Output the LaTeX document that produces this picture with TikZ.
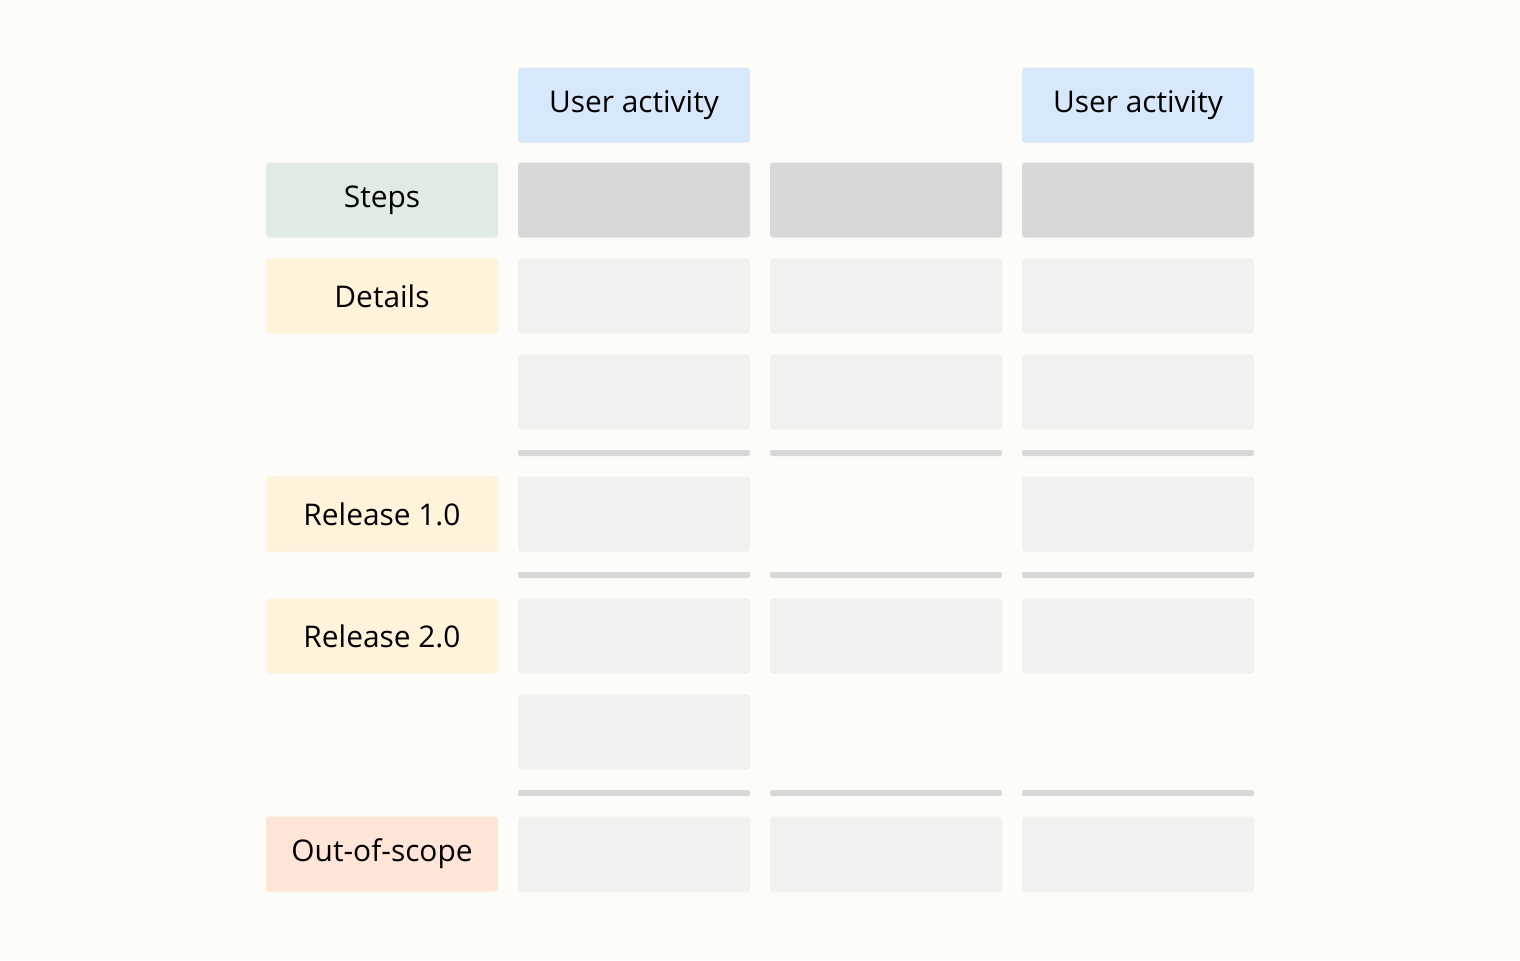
\documentclass[tikz,border=0pt]{standalone}
\usepackage{fontspec}
\setmainfont{Open Sans}
\definecolor{bgcol}{HTML}{FDFCF8}
\definecolor{actcol}{HTML}{D8E8FC}
\definecolor{stepcol}{HTML}{E0EBE3}
\definecolor{relcol}{HTML}{FFF3DC}
\definecolor{oocol}{HTML}{FFE4D8}
\definecolor{darkcell}{HTML}{D9D7D8}
\definecolor{lightcell}{HTML}{F2F1F0}
\tikzset{
  card/.style={minimum width=2.32cm, minimum height=0.75cm, rounded corners=0.03cm,
    inner sep=0pt, font=\fontsize{8.5}{10}\selectfont},
  sepline/.style={fill=darkcell, rounded corners=0.02cm, minimum width=2.32cm,
    minimum height=0.06cm, inner sep=0pt}
}
\begin{document}
\begin{tikzpicture}[x=1cm,y=-1cm]
\fill[bgcol] (0,0) rectangle (15.2,9.6);
\useasboundingbox (0,0) rectangle (15.2,9.6);

%%%%%%%%%%%%%%%%%%%%%%%%%%%%%%
\node [card,fill=actcol] (act1) at (6.34,1.05) {User activity};
\node [card,fill=actcol] (act3) at (11.38,1.05) {User activity};

\node [card,fill=stepcol] (steps) at (3.82,2.00) {Steps};
\node [card,fill=relcol] (details) at (3.82,2.96) {Details};
\node [card,fill=relcol] (rel1) at (3.82,5.14) {Release 1.0};
\node [card,fill=relcol] (rel2) at (3.82,6.36) {Release 2.0};
\node [card,fill=oocol] (oos) at (3.82,8.54) {Out-of-scope};

%%%%%%%%%%%%%%%%%%%%%%%%%%%%%%
\foreach \c/\x in {1/6.34,2/8.86,3/11.38}{
  \node [card,fill=darkcell] (step\c) at (\x,2.00) {};
  \node [card,fill=lightcell] (det\c) at (\x,2.96) {};
  \node [card,fill=lightcell] (detb\c) at (\x,3.92) {};
  \node [sepline] (sepa\c) at (\x,4.53) {};
  \node [sepline] (sepb\c) at (\x,5.75) {};
  \node [card,fill=lightcell] (relb\c) at (\x,6.36) {};
  \node [sepline] (sepc\c) at (\x,7.93) {};
  \node [card,fill=lightcell] (out\c) at (\x,8.54) {};
}
\node [card,fill=lightcell] (rela1) at (6.34,5.14) {};
\node [card,fill=lightcell] (rela3) at (11.38,5.14) {};
\node [card,fill=lightcell] (relc1) at (6.34,7.32) {};

\end{tikzpicture}
\end{document}
